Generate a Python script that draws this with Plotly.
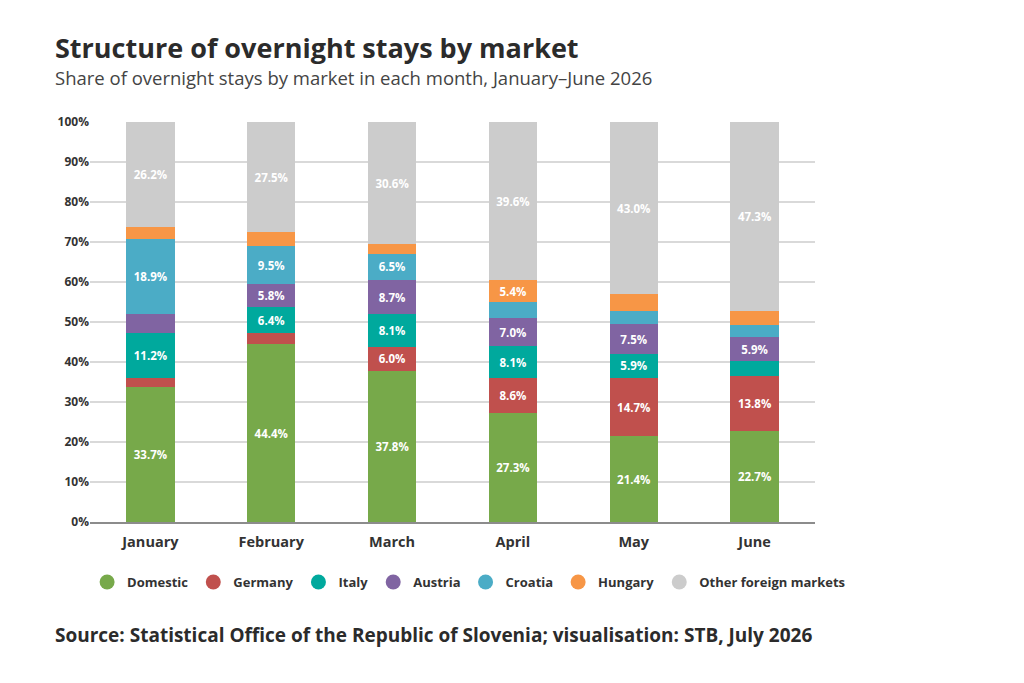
import plotly.graph_objects as go

months = ["January", "February", "March", "April", "May", "June"]

domestic = [33.7, 44.4, 37.8, 27.3, 21.4, 22.7]
germany = [2.4, 2.9, 6.0, 8.6, 14.7, 13.8]
italy = [11.2, 6.4, 8.1, 8.1, 5.9, 3.8]
austria = [4.6, 5.8, 8.7, 7.0, 7.5, 5.9]
croatia = [18.9, 9.5, 6.5, 4.0, 3.3, 3.1]
hungary = [3.0, 3.5, 2.3, 5.4, 4.2, 3.4]
other = [26.2, 27.5, 30.6, 39.6, 43.0, 47.3]

series = [
    ("Domestic", domestic, "#77a94a"),
    ("Germany", germany, "#c0504d"),
    ("Italy", italy, "#00a99d"),
    ("Austria", austria, "#8064a2"),
    ("Croatia", croatia, "#4bacc6"),
    ("Hungary", hungary, "#f79646"),
    ("Other foreign markets", other, "#cccccc"),
]

FONT = "Open Sans"

fig = go.Figure()
for name, vals, color in series:
    # small segments have no label in the original
    labels = [f"{v:.1f}%" if v >= 5 else "" for v in vals]
    fig.add_trace(go.Bar(
        name=name, x=months, y=vals, marker_color=color,
        marker_line_width=0, showlegend=False,
        text=labels, textposition="inside", insidetextanchor="middle",
        textangle=0,
        textfont=dict(color="white", size=11.5, family=FONT, weight="bold"),
    ))

# round legend markers, like the original
for name, vals, color in series:
    fig.add_trace(go.Scatter(
        name=name, x=[None], y=[None], mode="markers",
        marker=dict(symbol="circle", size=15, color=color),
        showlegend=True,
    ))

fig.update_layout(
    barmode="stack",
    bargap=0.6,
    width=1024, height=683,
    margin=dict(l=82, r=217, t=114, b=169),
    paper_bgcolor="white", plot_bgcolor="white",
    font=dict(family=FONT, color="#333333"),
    uniformtext=dict(minsize=11, mode="show"),
    legend=dict(
        orientation="h", x=-0.004, xanchor="left", y=-0.15, yanchor="middle",
        font=dict(size=13, weight="bold", color="#333333"),
        traceorder="normal", itemwidth=30, tracegroupgap=0,
    ),
)
fig.update_xaxes(
    showline=True, linecolor="#8c8c8c", linewidth=2,
    tickfont=dict(size=14.5, weight="bold", color="#333333"),
    ticks="", showgrid=False, ticklabelstandoff=6,
)
fig.update_yaxes(
    range=[0, 100], dtick=10, ticksuffix="%",
    showgrid=True, gridcolor="#d9d9d9", gridwidth=2,
    zeroline=False,
    tickfont=dict(size=12, weight="bold", color="#333333"),
)

fig.add_annotation(
    text="<b>Structure of overnight stays by market</b>",
    xref="paper", yref="paper", x=-0.051, y=1.185,
    xanchor="left", yanchor="middle", showarrow=False,
    font=dict(size=27, color="#2b2b2b", family=FONT),
)
fig.add_annotation(
    text="Share of overnight stays by market in each month, January–June 2026",
    xref="paper", yref="paper", x=-0.051, y=1.11,
    xanchor="left", yanchor="middle", showarrow=False,
    font=dict(size=18.5, color="#444444", family=FONT),
)
fig.add_annotation(
    text="<b>Source: Statistical Office of the Republic of Slovenia; visualisation: STB, July 2026</b>",
    xref="paper", yref="paper", x=-0.051, y=-0.283,
    xanchor="left", yanchor="middle", showarrow=False,
    font=dict(size=19, color="#2b2b2b", family=FONT),
)

fig.write_html("out.html")
